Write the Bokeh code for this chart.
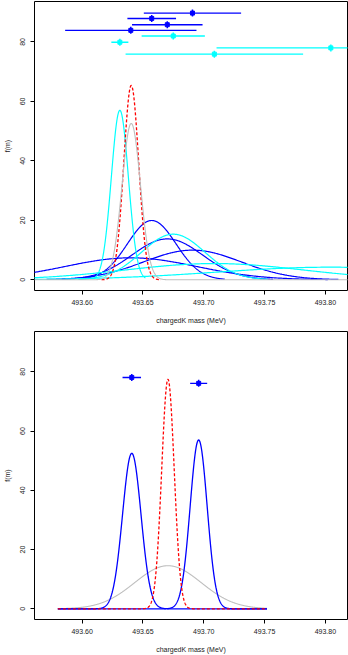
import numpy as np
from bokeh.plotting import figure
from bokeh.layouts import column
from bokeh.models import Range1d, FixedTicker, PrintfTickFormatter
from bokeh.embed import file_html
from bokeh.resources import INLINE

# ---- data ----
top_mean = [493.6907, 493.6572, 493.6700, 493.6400, 493.6749, 493.6310, 493.8045, 493.7087]
top_err = [0.040, 0.020, 0.029, 0.054, 0.026, 0.007, 0.094, 0.073]
top_ypos = [89.7, 87.9, 85.8, 83.9, 82.0, 79.9, 78.0, 75.9]
top_color = ["#0000FF"] * 4 + ["#00FFFF"] * 4

bot_mean = [493.6408, 493.6958]
bot_err = [0.0076, 0.0070]
bot_ypos = [78.1, 76.1]
bot_color = ["#0000FF", "#0000FF"]
bot_grid = [493.580, 493.752]

x_ticks = [493.60, 493.65, 493.70, 493.75, 493.80]
y_ticks = [0, 20, 40, 60, 80]
x_label = "chargedK mass (MeV)"
y_label = "f(m)"

FONT = "Liberation Sans"
TXT = "#222222"


def gauss(x, m, s):
    return np.exp(-0.5 * ((x - m) / s) ** 2) / (s * np.sqrt(2 * np.pi))


def wavg(means, errs):
    m = np.array(means); e = np.array(errs)
    w = 1 / e ** 2
    mu = np.sum(w * m) / np.sum(w)
    sig = 1 / np.sqrt(np.sum(w))
    chi2 = np.sum(w * (m - mu) ** 2)
    S = max(1.0, np.sqrt(chi2 / (len(m) - 1)))
    return mu, sig, sig * S


def make_fig(height, border_bottom):
    p = figure(width=348, height=height,
               x_range=Range1d(493.5608, 493.8182), y_range=Range1d(-3.6, 93.6),
               output_backend="svg", toolbar_location=None,
               min_border_left=32, min_border_right=1, min_border_top=1,
               min_border_bottom=border_bottom)
    p.xgrid.visible = False
    p.ygrid.visible = False
    p.outline_line_color = "black"
    p.outline_line_width = 1
    p.background_fill_color = "white"
    p.border_fill_color = "white"
    for ax in (p.xaxis[0], p.yaxis[0]):
        ax.axis_line_color = None
        ax.major_tick_out = 4
        ax.major_tick_in = 0
        ax.minor_tick_line_color = None
        ax.major_tick_line_color = "black"
        ax.major_label_text_font = FONT
        ax.major_label_text_font_size = "7px"
        ax.major_label_text_color = TXT
        ax.axis_label_text_font = FONT
        ax.axis_label_text_font_size = "7px"
        ax.axis_label_text_font_style = "normal"
        ax.axis_label_text_color = TXT
    p.xaxis.ticker = FixedTicker(ticks=x_ticks)
    p.xaxis.formatter = PrintfTickFormatter(format="%.2f")
    p.xaxis.major_label_standoff = 5
    p.xaxis.axis_label = x_label
    p.xaxis.axis_label_standoff = 9
    p.yaxis.ticker = FixedTicker(ticks=y_ticks)
    p.yaxis.major_label_orientation = "vertical"
    p.yaxis.major_label_standoff = 5
    p.yaxis.axis_label = y_label
    p.yaxis.axis_label_standoff = 7
    return p


def draw_points(p, means, errs, ypos, colors):
    for m, e, y, c in zip(means, errs, ypos, colors):
        p.segment(x0=[m - e], y0=[y], x1=[m + e], y1=[y], line_color=c, line_width=1.4)
    p.scatter(x=means, y=ypos, marker="square", size=4, fill_color=colors, line_color=colors)
    p.scatter(x=means, y=ypos, marker="dash", angle=np.pi / 2, size=7, line_color=colors, line_width=1.5)


# ---- top panel ----
p1 = make_fig(330, 40)
for m, e, c in zip(top_mean, top_err, top_color):
    xs = np.linspace(m - 3 * e, m + 3 * e, 400)
    p1.line(xs, gauss(xs, m, e), line_color=c, line_width=1.2)
mu, sig, sigS = wavg(top_mean, top_err)
xs = np.linspace(mu - 4 * sig, mu + 4 * sig, 300)
p1.line(xs, gauss(xs, mu, sig), line_color="#FF0000", line_width=1.3, line_dash="3 2")
xs = np.linspace(493.50, 493.90, 1200)
p1.line(xs, gauss(xs, mu, sigS), line_color="#BEBEBE", line_width=1.1)
draw_points(p1, top_mean, top_err, top_ypos, top_color)

# ---- bottom panel ----
p2 = make_fig(325, 34)
xs = np.linspace(bot_grid[0], bot_grid[1], 800)
mu2, sig2, sigS2 = wavg(bot_mean, bot_err)
p2.line(xs, gauss(xs, mu2, sigS2), line_color="#BEBEBE", line_width=1.1)
for m, e, c in zip(bot_mean, bot_err, bot_color):
    p2.line(xs, gauss(xs, m, e), line_color=c, line_width=1.3)
p2.line(xs, gauss(xs, mu2, sig2), line_color="#FF0000", line_width=1.3, line_dash="3 2")
draw_points(p2, bot_mean, bot_err, bot_ypos, bot_color)

layout = column(p1, p2, spacing=0)
open("out.html", "w").write(file_html(layout, INLINE))
